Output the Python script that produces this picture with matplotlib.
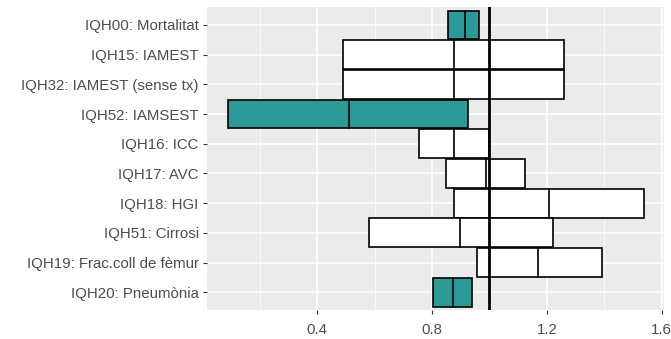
import matplotlib.pyplot as plt

plt.rcParams['font.family'] = ['Liberation Sans', 'DejaVu Sans']

# indicators, top to bottom
labels = ['IQH00: Mortalitat', 'IQH15: IAMEST', 'IQH32: IAMEST (sense tx)',
          'IQH52: IAMSEST', 'IQH16: ICC', 'IQH17: AVC', 'IQH18: HGI',
          'IQH51: Cirrosi', 'IQH19: Frac.coll de fèmur', 'IQH20: Pneumònia']
lower = [0.856, 0.490, 0.490, 0.088, 0.755, 0.847, 0.878, 0.581, 0.957, 0.802]
est = [0.914, 0.875, 0.875, 0.510, 0.878, 0.987, 1.208, 0.899, 1.171, 0.874]
upper = [0.965, 1.259, 1.259, 0.925, 0.998, 1.124, 1.537, 1.221, 1.391, 0.940]
signif = [True, False, False, True, False, False, False, False, False, True]

teal = '#2b9a96'
fig = plt.figure(figsize=(6.71, 3.39), dpi=100)
ax = fig.add_axes([0.3085, 0.0855, 0.6815, 0.8935])
ax.set_facecolor('#ebebeb')

n = len(labels)
ypos = [n - 1 - i for i in range(n)]

ax.set_xticks([0.4, 0.8, 1.2, 1.6])
ax.set_xticks([0.2, 0.6, 1.0, 1.4], minor=True)
ax.set_yticks(ypos)
ax.set_yticklabels(labels)
ax.grid(True, which='major', color='white', lw=1.1)
ax.grid(True, which='minor', axis='x', color='white', lw=0.55)
ax.set_axisbelow(True)

for y, lo, m, hi, s in zip(ypos, lower, est, upper, signif):
    ax.barh(y, hi - lo, left=lo, height=0.97, color=teal if s else 'white',
            edgecolor='black', lw=1.2, zorder=2)
    ax.plot([m, m], [y - 0.485, y + 0.485], color='black', lw=1.2, zorder=3)

ax.axvline(1.0, color='black', lw=2, zorder=4)

span = max(upper) - min(lower)
ax.set_xlim(min(lower) - 0.05 * span, max(upper) + 0.05 * span)
ax.set_ylim(-0.6, n - 0.4)

for sp in ax.spines.values():
    sp.set_visible(False)
ax.tick_params(which='major', color='#333333', length=3, width=0.8,
               labelcolor='#4d4d4d', labelsize=10.8, pad=3)
ax.tick_params(axis='x', which='major', pad=6)
ax.tick_params(which='minor', length=0)

fig.savefig('out.png', dpi=100)
